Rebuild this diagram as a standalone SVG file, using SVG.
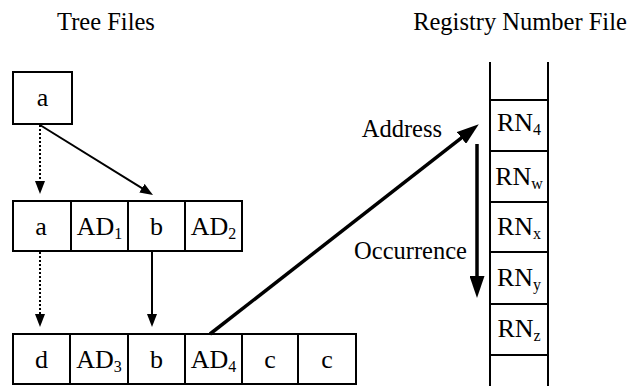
<svg xmlns="http://www.w3.org/2000/svg" width="631" height="386" viewBox="0 0 631 386">
<style>
  .box { fill: #fff; stroke: #000; stroke-width: 2; }
  .ln { stroke: #000; stroke-width: 2; fill: none; }
  .t { font-family: "Liberation Serif", "Times New Roman", serif; fill: #000; }
  .title { font-size: 24.5px; }
  .cell { font-size: 26px; text-anchor: middle; }
  .sub { font-size: 16px; }
  .dot { stroke: #000; stroke-width: 2; stroke-dasharray: 2 2; fill: none; }
  .thin { stroke: #000; stroke-width: 2; fill: none; }
  .thick { stroke: #000; stroke-width: 3.5; fill: none; }
</style>
<defs>
  <marker id="ah" markerUnits="userSpaceOnUse" markerWidth="13" markerHeight="10" refX="9" refY="5" orient="auto">
    <path d="M0,0 L13,5 L0,10 z" fill="#000"/>
  </marker>
  <marker id="ahBig" markerUnits="userSpaceOnUse" markerWidth="22" markerHeight="15" refX="13" refY="7.5" orient="auto">
    <path d="M0,0 L22,7.5 L0,15 z" fill="#000"/>
  </marker>
</defs>
<rect width="631" height="386" fill="#fff"/>

<g id="titles">
  <text class="t title" x="106" y="30" text-anchor="middle">Tree Files</text>
  <text class="t title" x="520" y="30" text-anchor="middle">Registry Number File</text>
</g>

<g id="root-a">
  <rect class="box" x="13" y="72" width="59" height="52"/>
  <text class="t cell" x="42.5" y="106">a</text>
</g>

<g id="record-1">
  <rect class="box" x="13" y="201" width="229" height="50"/>
  <line class="ln" x1="71" y1="201" x2="71" y2="251"/>
  <line class="ln" x1="128" y1="201" x2="128" y2="251"/>
  <line class="ln" x1="185" y1="201" x2="185" y2="251"/>
  <text class="t cell" x="41" y="235">a</text>
  <text class="t cell" x="99.5" y="235">AD<tspan class="sub" dy="4">1</tspan></text>
  <text class="t cell" x="156.5" y="235">b</text>
  <text class="t cell" x="213.5" y="235">AD<tspan class="sub" dy="4">2</tspan></text>
</g>

<g id="record-2">
  <rect class="box" x="13" y="334" width="343" height="50"/>
  <line class="ln" x1="70" y1="334" x2="70" y2="384"/>
  <line class="ln" x1="128" y1="334" x2="128" y2="384"/>
  <line class="ln" x1="185" y1="334" x2="185" y2="384"/>
  <line class="ln" x1="242" y1="334" x2="242" y2="384"/>
  <line class="ln" x1="298" y1="334" x2="298" y2="384"/>
  <text class="t cell" x="41.5" y="368">d</text>
  <text class="t cell" x="99" y="368">AD<tspan class="sub" dy="4">3</tspan></text>
  <text class="t cell" x="156.5" y="368">b</text>
  <text class="t cell" x="213.5" y="368">AD<tspan class="sub" dy="4">4</tspan></text>
  <text class="t cell" x="270" y="368">c</text>
  <text class="t cell" x="327" y="368">c</text>
</g>

<g id="registry-file">
  <line class="ln" x1="490" y1="62" x2="490" y2="386"/>
  <line class="ln" x1="548" y1="62" x2="548" y2="386"/>
  <line class="ln" x1="490" y1="100" x2="548" y2="100"/>
  <line class="ln" x1="490" y1="151" x2="548" y2="151"/>
  <line class="ln" x1="490" y1="202" x2="548" y2="202"/>
  <line class="ln" x1="490" y1="252" x2="548" y2="252"/>
  <line class="ln" x1="490" y1="304" x2="548" y2="304"/>
  <line class="ln" x1="490" y1="355" x2="548" y2="355"/>
  <text class="t cell" x="519" y="131">RN<tspan class="sub" dy="4">4</tspan></text>
  <text class="t cell" x="519" y="185">RN<tspan class="sub" dy="4">w</tspan></text>
  <text class="t cell" x="519" y="235">RN<tspan class="sub" dy="4">x</tspan></text>
  <text class="t cell" x="519" y="286">RN<tspan class="sub" dy="4">y</tspan></text>
  <text class="t cell" x="519" y="337">RN<tspan class="sub" dy="4">z</tspan></text>
</g>

<g id="labels">
  <text class="t title" x="442" y="137" text-anchor="end" font-size="25">Address</text>
  <text class="t title" x="467" y="259" text-anchor="end" font-size="25">Occurrence</text>
</g>

<g id="connectors">
  <line class="dot" x1="40" y1="125" x2="40" y2="190" marker-end="url(#ah)"/>
  <line class="thin" x1="40" y1="125" x2="149.6" y2="192.9" marker-end="url(#ah)"/>
  <line class="dot" x1="40" y1="252" x2="40" y2="323" marker-end="url(#ah)"/>
  <line class="thin" x1="152" y1="252" x2="152" y2="323" marker-end="url(#ah)"/>
  <line class="thick" x1="210" y1="334" x2="471.7" y2="129.9" marker-end="url(#ahBig)"/>
  <line class="thick" x1="477" y1="144" x2="477" y2="289" marker-end="url(#ahBig)"/>
</g>
</svg>
